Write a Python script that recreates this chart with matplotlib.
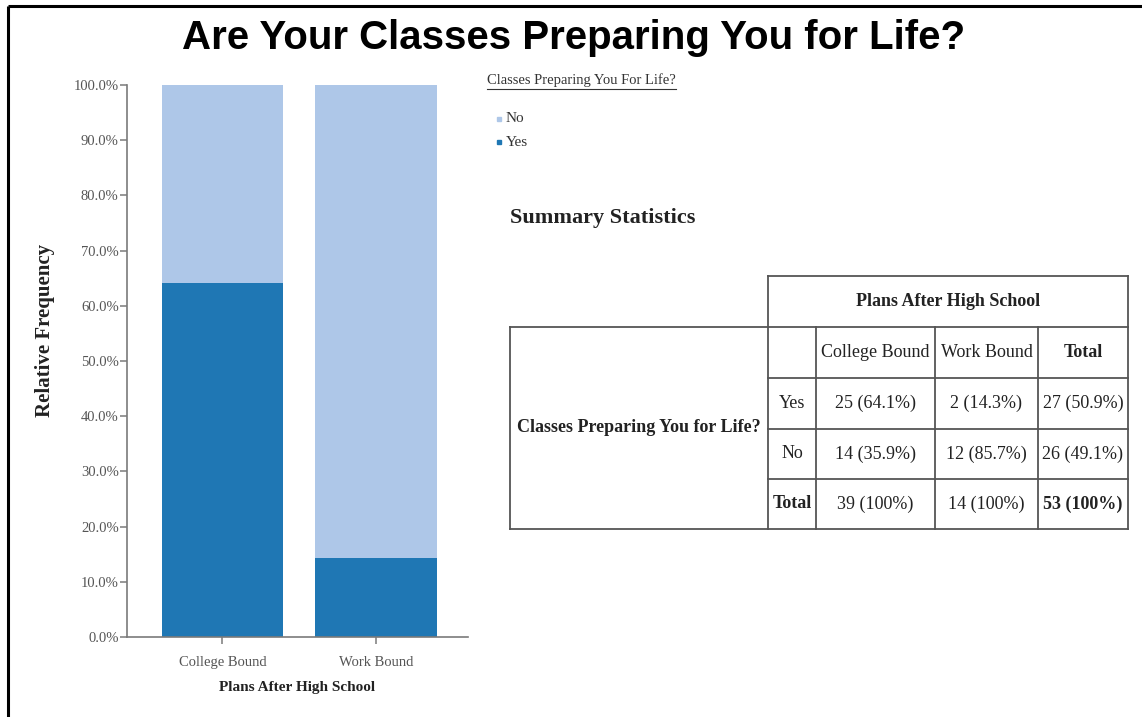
import numpy as np
import matplotlib
matplotlib.use('Agg')
import matplotlib.pyplot as plt
from matplotlib.ticker import PercentFormatter, MultipleLocator

# data
categories = ['College Bound', 'Work Bound']
answers = ['No', 'Yes']
yes_counts = np.array([25, 2])
no_counts = np.array([14, 12])
col_totals = yes_counts + no_counts
yes_share = yes_counts / col_totals
no_share = no_counts / col_totals

dark_blue = '#1f77b4'
light_blue = '#aec7e8'

plt.rcParams['font.family'] = ['Liberation Serif', 'DejaVu Serif']

W, H = 1142, 717
fig = plt.figure(figsize=(W / 100, H / 100), dpi=100)

# bar chart
ax = fig.add_axes([127 / W, 1 - 637 / H, 341 / W, 552 / H])
x = np.arange(len(categories))
ax.bar(x, yes_share, width=0.79, color=dark_blue)
ax.bar(x, no_share, width=0.79, bottom=yes_share, color=light_blue)
ax.set_xlim(-0.622, 1.6)
ax.set_ylim(0, 1)
ax.yaxis.set_major_locator(MultipleLocator(0.1))
ax.yaxis.set_major_formatter(PercentFormatter(1.0, decimals=1))
ax.set_xticks(x)
ax.set_xticklabels(categories)
for s in ['top', 'right']:
    ax.spines[s].set_visible(False)
for s in ['left', 'bottom']:
    ax.spines[s].set_color('#7a7a7a')
    ax.spines[s].set_linewidth(1.2)
ax.tick_params(axis='both', length=5, width=1.1, color='#7a7a7a',
               labelcolor='#555555', labelsize=10.5)
ax.tick_params(axis='y', pad=1)
ax.tick_params(axis='x', pad=9)
ax.set_xlabel('Plans After High School', fontsize=11, fontweight='bold',
              color='#222222', labelpad=8)

# overlay in pixel coordinates for the html-like parts
ov = fig.add_axes([0, 0, 1, 1])
ov.set_xlim(0, W)
ov.set_ylim(H, 0)
ov.axis('off')
ov.patch.set_alpha(0)

# frame of the screenshot
ov.plot([8, 8], [6, H], color='black', lw=2.2, solid_capstyle='butt')
ov.plot([8, W], [6, 6], color='black', lw=2.2, solid_capstyle='butt')

ov.text(574, 38, 'Are Your Classes Preparing You for Life?', family='Liberation Sans',
        fontsize=29, fontweight='bold', ha='center', va='center')

ov.text(45, 330, 'Relative Frequency', rotation=90, fontsize=15, fontweight='bold',
        ha='center', va='center', color='#222222')

# legend
lt = ov.text(487, 80, 'Classes Preparing You For Life?', fontsize=10.5,
             ha='left', va='center', color='#333333')
fig.canvas.draw()
bb = lt.get_window_extent().transformed(ov.transData.inverted())
ov.plot([bb.x0, bb.x1], [89, 89], color='#333333', lw=0.8)
leg_colors = {'No': light_blue, 'Yes': dark_blue}
for i, a in enumerate(answers):
    yy = 119 + 23 * i
    ov.plot(499, yy, marker='s', ms=3.5, color=leg_colors[a], ls='none')
    ov.text(506, yy, a, fontsize=11, ha='left', va='center', color='#333333')

ov.text(510, 218, 'Summary Statistics', fontsize=16, fontweight='bold',
        ha='left', va='center', color='#222222')

# contingency table
col_edges = [510, 768, 816, 935, 1038, 1128]
row_edges = [276, 327, 378, 429, 479, 529]
lc = '#555555'
lw = 1.3


def hline(y, x0, x1):
    ov.plot([x0, x1], [y, y], color=lc, lw=lw)


def vline(xx, y0, y1):
    ov.plot([xx, xx], [y0, y1], color=lc, lw=lw)


hline(row_edges[0], col_edges[1], col_edges[-1])
vline(col_edges[1], row_edges[0], row_edges[1])
vline(col_edges[-1], row_edges[0], row_edges[1])
hline(row_edges[1], col_edges[0], col_edges[-1])
hline(row_edges[-1], col_edges[0], col_edges[-1])
vline(col_edges[0], row_edges[1], row_edges[-1])
for xx in col_edges[1:]:
    vline(xx, row_edges[1], row_edges[-1])
for yy in row_edges[2:-1]:
    hline(yy, col_edges[1], col_edges[-1])

tc = '#222222'
fs = 13
ov.text((col_edges[1] + col_edges[-1]) / 2, (row_edges[0] + row_edges[1]) / 2,
        'Plans After High School', fontsize=fs, fontweight='bold',
        ha='center', va='center', color=tc)
ov.text((col_edges[0] + col_edges[1]) / 2, (row_edges[1] + row_edges[-1]) / 2,
        'Classes Preparing You for Life?', fontsize=fs, fontweight='bold',
        ha='center', va='center', color=tc)

grand = col_totals.sum()
rows = [
    ['', categories[0], categories[1], 'Total'],
    ['Yes'] + [f'{n} ({p * 100:.1f}%)' for n, p in zip(yes_counts, yes_share)]
    + [f'{yes_counts.sum()} ({yes_counts.sum() / grand * 100:.1f}%)'],
    ['No'] + [f'{n} ({p * 100:.1f}%)' for n, p in zip(no_counts, no_share)]
    + [f'{no_counts.sum()} ({no_counts.sum() / grand * 100:.1f}%)'],
    ['Total'] + [f'{n} (100%)' for n in col_totals] + [f'{grand} (100%)'],
]
bold_cells = {(0, 3), (3, 0), (3, 3)}
for r, row in enumerate(rows):
    yc = (row_edges[r + 1] + row_edges[r + 2]) / 2
    for c, txt in enumerate(row):
        xc = (col_edges[c + 1] + col_edges[c + 2]) / 2
        ov.text(xc, yc, txt, fontsize=fs, ha='center', va='center', color=tc,
                fontweight='bold' if (r, c) in bold_cells else 'normal')

fig.savefig('out.png', dpi=100)
